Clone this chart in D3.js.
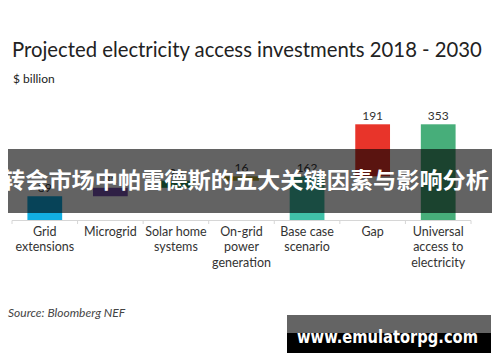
<!DOCTYPE html>
<html>
<head>
<meta charset="utf-8">
<script src="https://cdn.jsdelivr.net/npm/d3@7"></script>
<style>
  html, body { margin: 0; padding: 0; background: #fff; }
  svg { display: block; }
</style>
</head>
<body>
<div id="chart"></div>
<script>
// waterfall data ($ billion)
var categories = ['Grid extensions', 'Microgrid', 'Solar home systems', 'On-grid power generation', 'Base case scenario', 'Gap', 'Universal access to electricity'];
var labelLines = [['Grid', 'extensions'], ['Microgrid'], ['Solar home', 'systems'], ['On-grid', 'power', 'generation'], ['Base case', 'scenario'], ['Gap'], ['Universal', 'access to', 'electricity']];
var values = [89, 31, 26, 16, 162, 191, 353];
var kinds = ['step', 'step', 'step', 'step', 'total', 'step', 'total'];
var colors = ['#12aee2', '#7a52b3', '#2a9c62', '#b3a532', '#40c1a8', '#e8342a', '#47ae7a'];

var width = 500, height = 362;
var svg = d3.select('#chart').append('svg')
    .attr('width', width)
    .attr('height', height);

var font = 'Lato, "Open Sans", sans-serif';

// build bar extents
var run = 0;
var bars = values.map(function(v, i) {
    var b;
    if (kinds[i] === 'total') { b = {y0: 0, y1: v}; run = v; }
    else { b = {y0: run, y1: run + v}; run += v; }
    b.name = categories[i]; b.value = v; b.color = colors[i]; b.lines = labelLines[i];
    return b;
});

var x = d3.scaleBand().domain(categories).range([12, 471]).paddingInner(0.47).paddingOuter(0.235);
var y = d3.scaleLinear().domain([0, 353]).range([220.5, 124.3]);

// title
var title = svg.append('text')
    .attr('x', 12).attr('y', 57)
    .style('font-family', font).style('font-size', '20px').style('fill', '#222')
    .text('Projected electricity access investments 2018 - 2030');
var tw = title.node().getComputedTextLength();
title.style('font-size', (20 * 470 / tw).toFixed(2) + 'px');

svg.append('text')
    .attr('x', 13).attr('y', 83)
    .style('font-family', font).style('font-size', '12px').style('fill', '#222')
    .text('$ billion');

// bars
svg.selectAll('.bar').data(bars).enter().append('rect')
    .attr('class', 'bar')
    .attr('x', function(d) { return x(d.name); })
    .attr('width', x.bandwidth())
    .attr('y', function(d) { return y(d.y1); })
    .attr('height', function(d) { return y(d.y0) - y(d.y1); })
    .style('fill', function(d) { return d.color; });

svg.selectAll('.val').data(bars).enter().append('text')
    .attr('class', 'val')
    .attr('x', function(d) { return x(d.name) + x.bandwidth() / 2; })
    .attr('y', function(d) { return y(d.y1) - 4; })
    .attr('text-anchor', 'middle')
    .style('font-family', font).style('font-size', '12px').style('fill', '#333')
    .text(function(d) { return d.value; });

// axis line + boundary ticks
var step = x.step();
var x0 = x.range()[0];
svg.append('line')
    .attr('x1', x0).attr('x2', x.range()[1])
    .attr('y1', 220.5).attr('y2', 220.5)
    .style('stroke', '#d6d6d6').style('stroke-width', 1);
svg.selectAll('.tk').data(d3.range(categories.length + 1)).enter().append('line')
    .attr('class', 'tk')
    .attr('x1', function(i) { return x0 + i * step; })
    .attr('x2', function(i) { return x0 + i * step; })
    .attr('y1', 220.5).attr('y2', 224)
    .style('stroke', '#d6d6d6');

// category labels
var cat = svg.selectAll('.cat').data(bars).enter().append('text')
    .attr('class', 'cat')
    .attr('text-anchor', 'middle')
    .style('font-family', font).style('font-size', '12.5px').style('fill', '#333');
cat.selectAll('tspan').data(function(d) { return d.lines.map(function(l) { return {t: l, c: x(d.name) + x.bandwidth() / 2}; }); })
    .enter().append('tspan')
    .attr('x', function(d) { return d.c; })
    .attr('y', function(d, i) { return 235.5 + i * 15.8; })
    .text(function(d) { return d.t; });

// source
svg.append('text')
    .attr('x', 8).attr('y', 317)
    .style('font-family', font).style('font-size', '12px').style('font-style', 'italic').style('fill', '#444')
    .text('Source: Bloomberg NEF');

// overlay banner
svg.append('rect')
    .attr('x', 8).attr('y', 149).attr('width', 484).attr('height', 64)
    .style('fill', '#000').style('fill-opacity', 0.61);
svg.append('text')
    .attr('x', 2).attr('y', 188)
    .attr('textLength', 487).attr('lengthAdjust', 'spacingAndGlyphs')
    .style('font-family', '"Noto Sans CJK SC", sans-serif').style('font-size', '22px').style('font-weight', 'bold').style('fill', '#fff')
    .text('转会市场中帕雷德斯的五大关键因素与影响分析');

// watermark
svg.append('rect').attr('x', 287).attr('y', 315).attr('width', 204).attr('height', 19).style('fill', '#646464');
svg.append('rect').attr('x', 287).attr('y', 333).attr('width', 204).attr('height', 20).style('fill', '#000');
svg.append('text')
    .attr('x', 297).attr('y', 342.5)
    .attr('textLength', 181).attr('lengthAdjust', 'spacingAndGlyphs')
    .style('font-family', '"DejaVu Sans", sans-serif').style('font-size', '17px').style('font-weight', 'bold').style('fill', '#fff')
    .text('www.emulatorpg.com');
</script>
</body>
</html>
